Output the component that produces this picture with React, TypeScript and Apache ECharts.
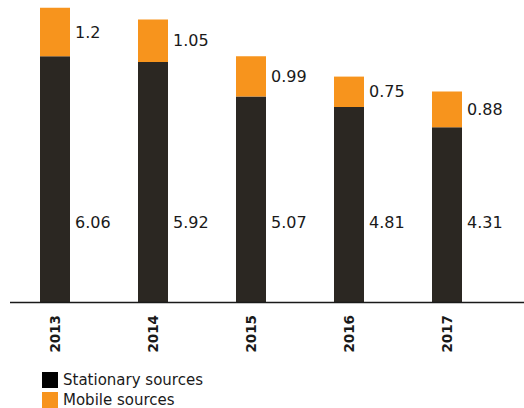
import React, { useEffect, useRef } from "react";
import * as echarts from "echarts";

const years = ["2013", "2014", "2015", "2016", "2017"];
const stationary = [6.06, 5.92, 5.07, 4.81, 4.31];
const mobile = [1.2, 1.05, 0.99, 0.75, 0.88];
const seriesNames = ["Stationary sources", "Mobile sources"];

const DARK = "#2b2722";
const ORANGE = "#f7941d";
const TEXT = "#1a1a1a";
const FONT = "DejaVu Sans";

export default function App() {
  const ref = useRef<HTMLDivElement>(null);
  useEffect(() => {
    if (!ref.current) return;
    const chart = echarts.init(ref.current, null, { renderer: "svg" });
    chart.setOption({
      animation: false,
      backgroundColor: "#ffffff",
      grid: { left: 6, width: 490, top: 2, height: 300 },
      xAxis: {
        type: "category",
        data: years,
        axisLine: { show: false },
        axisTick: { show: false },
        axisLabel: {
          rotate: 90,
          margin: 13,
          fontFamily: FONT,
          fontWeight: "bold",
          fontSize: 13.5,
          color: TEXT,
        },
      },
      yAxis: { type: "value", min: 0, max: 7.4, show: false },
      legend: {
        orient: "vertical",
        left: 42,
        top: 372,
        height: 40,
        padding: 0,
        icon: "rect",
        itemWidth: 16,
        itemHeight: 16,
        itemGap: 4,
        textStyle: { fontFamily: FONT, fontSize: 15, color: TEXT },
        data: [
          { name: seriesNames[0], itemStyle: { color: "#000000" } },
          { name: seriesNames[1], itemStyle: { color: ORANGE } },
        ],
      },
      graphic: [
        {
          type: "line",
          shape: { x1: 10, y1: 302.5, x2: 524, y2: 302.5 },
          style: { stroke: "#1a1a1a", lineWidth: 1.5 },
          z: 10,
        },
      ],
      series: [
        {
          name: seriesNames[0],
          type: "bar",
          stack: "total",
          barWidth: 30,
          data: stationary,
          itemStyle: { color: DARK },
          label: {
            show: true,
            position: "insideBottomLeft",
            distance: 5,
            offset: [30, -67],
            fontFamily: FONT,
            fontSize: 16,
            color: TEXT,
          },
        },
        {
          name: seriesNames[1],
          type: "bar",
          stack: "total",
          barWidth: 30,
          data: mobile,
          itemStyle: { color: ORANGE },
          label: {
            show: true,
            position: "right",
            distance: 5,
            fontFamily: FONT,
            fontSize: 16,
            color: TEXT,
          },
        },
      ],
    });
    return () => chart.dispose();
  }, []);
  return (
    <div
      ref={ref}
      style={{ position: "fixed", left: 0, top: 0, width: 524, height: 408 }}
    />
  );
}
